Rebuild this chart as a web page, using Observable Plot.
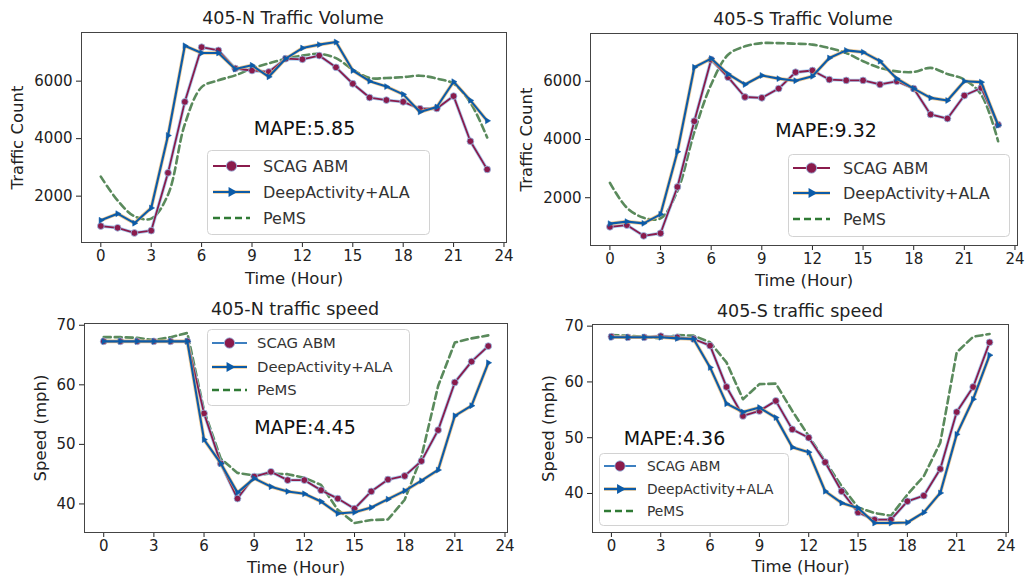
<!DOCTYPE html>
<html>
<head>
<meta charset="utf-8">
<script src="https://cdn.jsdelivr.net/npm/d3@7"></script>
<script src="https://cdn.jsdelivr.net/npm/@observablehq/plot@0.6"></script>
<style>
  body { margin: 0; background: #fff; font-family: "DejaVu Sans", sans-serif; }
  #fig { position: relative; width: 1025px; height: 577px; overflow: hidden; background: #fff; }
  .panel { position: absolute; overflow: visible; }
  .title { position: absolute; font-size: 17.5px; color: #222; transform: translate(-50%, -50%); white-space: nowrap; }
  .legend { position: absolute; }
  svg text { font-family: "DejaVu Sans", sans-serif; }
  g[aria-label="x-axis label"] text, g[aria-label="y-axis label"] text { font-size: 16.5px; }
</style>
</head>
<body>
<div id="fig"></div>
<script>
// Hour of day for every series
const hours = d3.range(24);
const xTicks = [0, 3, 6, 9, 12, 15, 18, 21, 24];

// 405-N traffic volume (vehicles per hour)
const nVolScag = [960, 900, 720, 800, 2810, 5280, 7180, 7070, 6440, 6370, 6320, 6780, 6760, 6890, 6480, 5910, 5430, 5340, 5280, 5040, 5050, 5480, 3910, 2930];
const nVolDeep = [1160, 1390, 1060, 1590, 4110, 7230, 6980, 6980, 6420, 6550, 6150, 6780, 7150, 7270, 7360, 6370, 6000, 5810, 5540, 4930, 5100, 5980, 5330, 4620];
const nVolPems = [2680, 1850, 1300, 1220, 2050, 4500, 5790, 6030, 6200, 6440, 6620, 6780, 6890, 6950, 6800, 6400, 6110, 6110, 6140, 6190, 6090, 5910, 5250, 4040];

// 405-S traffic volume
const sVolScag = [1000, 1060, 690, 780, 2370, 4630, 6740, 6140, 5460, 5430, 5750, 6310, 6370, 6060, 6030, 6030, 5890, 6000, 5750, 4860, 4720, 5510, 5770, 4510];
const sVolDeep = [1110, 1180, 1120, 1430, 3580, 6480, 6780, 6250, 5890, 6200, 6090, 6020, 6170, 6800, 7060, 7000, 6690, 6090, 5750, 5430, 5340, 6000, 5970, 4490];
const sVolPems = [2510, 1660, 1310, 1290, 2230, 4250, 5890, 6910, 7200, 7310, 7310, 7290, 7260, 7140, 6970, 6690, 6460, 6340, 6320, 6460, 6250, 6060, 5540, 3940];

// 405-N traffic speed (mph)
const nSpdScag = [67.3, 67.3, 67.3, 67.3, 67.3, 67.3, 55.2, 46.8, 40.9, 44.6, 45.4, 44.0, 44.0, 42.3, 40.9, 39.2, 42.1, 44.1, 44.7, 47.2, 52.4, 60.4, 63.9, 66.5];
const nSpdDeep = [67.3, 67.3, 67.3, 67.3, 67.3, 67.3, 50.8, 46.8, 41.9, 44.3, 42.9, 42.1, 41.7, 40.4, 38.4, 38.6, 39.4, 40.8, 42.2, 43.9, 45.7, 54.8, 56.5, 63.7];
const nSpdPems = [68.0, 68.0, 67.9, 67.5, 68.0, 68.7, 55.7, 47.6, 45.2, 44.8, 45.1, 45.0, 44.4, 43.2, 39.0, 36.8, 37.3, 37.4, 40.7, 47.9, 59.8, 67.1, 67.8, 68.3];

// 405-S traffic speed (mph)
const sSpdScag = [68.1, 68.0, 68.0, 68.2, 68.0, 67.7, 66.5, 59.1, 53.9, 54.8, 56.6, 51.5, 50.0, 45.6, 40.4, 36.6, 35.3, 35.3, 38.6, 39.6, 44.4, 54.6, 59.1, 67.1];
const sSpdDeep = [68.0, 68.0, 68.0, 68.0, 67.8, 67.7, 62.6, 56.1, 54.6, 55.4, 53.6, 48.3, 47.4, 40.4, 38.3, 37.4, 34.7, 34.7, 34.8, 36.6, 40.1, 50.6, 56.9, 64.8];
const sSpdPems = [68.4, 68.3, 68.1, 67.8, 68.4, 68.3, 67.1, 63.5, 56.9, 59.6, 59.7, 54.8, 50.3, 45.8, 41.3, 37.5, 36.5, 36.0, 39.8, 43.1, 49.1, 65.3, 68.1, 68.6];

// Series names and error scores
const seriesNames = ["SCAG ABM", "DeepActivity+ALA", "PeMS"];
const mapeLabels = ["MAPE:5.85", "MAPE:9.32", "MAPE:4.45", "MAPE:4.36"];
const panelTitles = ["405-N Traffic Volume", "405-S Traffic Volume", "405-N traffic speed", "405-S traffic speed"];

const MAROON = "#8a1b4c";
const BLUE = "#0c5ba8";
const GREEN = "#5a8a5c";

const fig = document.getElementById("fig");

// matplotlib-style autoscale: 5% padding on each side of the data range
function padded(values) {
  const [lo, hi] = d3.extent(values);
  const p = (hi - lo) * 0.05;
  return [lo - p, hi + p];
}

function rows(values) {
  return hours.map((h, i) => ({ h, v: values[i] }));
}

const panels = [
  {
    title: panelTitles[0], titlePos: [293, 18],
    left: 0, top: 0, width: 512, height: 290,
    margin: { left: 81, right: 6, top: 32, bottom: 48 },
    series: [nVolScag, nVolDeep, nVolPems], smooth: true,
    yTicks: [2000, 4000, 6000], yLabel: "Traffic Count", yLabelOffset: 70, xLabelOffset: 41,
    mape: mapeLabels[0], mapeAt: [9.1, 4340],
    legend: { x: 207, y: 150, w: 222, h: 84, rowY: [16, 42, 68], sw: [6, 43], tx: 56, fs: 16, scagLine: MAROON }
  },
  {
    title: panelTitles[1], titlePos: [803, 19],
    left: 512, top: 0, width: 513, height: 290,
    margin: { left: 78, right: 8, top: 33, bottom: 45 },
    series: [sVolScag, sVolDeep, sVolPems], smooth: true,
    yTicks: [2000, 4000, 6000], yLabel: "Traffic Count", yLabelOffset: 70, xLabelOffset: 40,
    mape: mapeLabels[1], mapeAt: [9.8, 4290],
    legend: { x: 788, y: 154, w: 221, h: 82, rowY: [14, 39, 65], sw: [5, 42], tx: 55, fs: 16, scagLine: MAROON }
  },
  {
    title: panelTitles[2], titlePos: [295, 309],
    left: 0, top: 290, width: 512, height: 287,
    margin: { left: 84, right: 5, top: 33, bottom: 45 },
    series: [nSpdScag, nSpdDeep, nSpdPems], smooth: false,
    yTicks: [40, 50, 60, 70], yLabel: "Speed (mph)", yLabelOffset: 50, xLabelOffset: 40,
    mape: mapeLabels[2], mapeAt: [9.0, 52.7],
    legend: { x: 207, y: 329, w: 202, h: 76, rowY: [14, 38, 61], sw: [5, 40], tx: 50, fs: 14.8, scagLine: "#3d7fc0" }
  },
  {
    title: panelTitles[3], titlePos: [800, 311],
    left: 512, top: 290, width: 513, height: 287,
    margin: { left: 80, right: 17, top: 34, bottom: 45 },
    series: [sSpdScag, sSpdDeep, sSpdPems], smooth: false,
    yTicks: [40, 50, 60, 70], yLabel: "Speed (mph)", yLabelOffset: 50, xLabelOffset: 39,
    mape: mapeLabels[3], mapeAt: [0.75, 49.8],
    legend: { x: 599, y: 453, w: 189, h: 72, rowY: [13, 36, 58], sw: [5, 37], tx: 48, fs: 13.8, scagLine: "#3d7fc0" }
  }
];

for (const p of panels) {
  const [scag, deep, pems] = p.series.map(rows);
  const yDomain = padded([...p.series[0], ...p.series[1], ...p.series[2]]);
  const chart = Plot.plot({
    width: p.width,
    height: p.height,
    marginLeft: p.margin.left,
    marginRight: p.margin.right,
    marginTop: p.margin.top,
    marginBottom: p.margin.bottom,
    style: { fontSize: "15px", color: "#222", background: "transparent", overflow: "visible" },
    x: { domain: [-1.15, 24.15] },
    y: { domain: yDomain },
    marks: [
      Plot.axisX({ ticks: xTicks, tickSize: 5, tickPadding: 3, tickFormat: d3.format("d"),
        label: "Time (Hour)", labelAnchor: "center", labelOffset: p.xLabelOffset, labelArrow: "none" }),
      Plot.axisY({ ticks: p.yTicks, tickSize: 5, tickPadding: 4, tickFormat: d3.format("d"),
        label: p.yLabel, labelAnchor: "center", labelOffset: p.yLabelOffset, labelArrow: "none" }),
      // PeMS observations
      Plot.line(pems, { x: "h", y: "v", stroke: GREEN, strokeWidth: 2.6, strokeDasharray: "7,4",
        curve: p.smooth ? "catmull-rom" : "linear" }),
      // SCAG ABM with a light edge
      Plot.line(scag, { x: "h", y: "v", stroke: "#9ac2ea", strokeWidth: 3.4, strokeOpacity: 0.8 }),
      Plot.line(scag, { x: "h", y: "v", stroke: MAROON, strokeWidth: 1.8 }),
      Plot.dot(scag, { x: "h", y: "v", r: 3.4, fill: MAROON, stroke: "#9ac2ea", strokeWidth: 0.8 }),
      // DeepActivity+ALA with a warm edge
      Plot.line(deep, { x: "h", y: "v", stroke: "#e8b466", strokeWidth: 3.6, strokeOpacity: 0.7 }),
      Plot.line(deep, { x: "h", y: "v", stroke: BLUE, strokeWidth: 2.1 }),
      Plot.dot(deep, { x: "h", y: "v", symbol: "triangle", rotate: 90, r: 2.2, fill: BLUE, stroke: BLUE, strokeWidth: 0.5 }),
      Plot.text([p.mape], { x: p.mapeAt[0], y: p.mapeAt[1], text: d => d, textAnchor: "start",
        fontSize: 19, fill: "#111" }),
      Plot.frame({ stroke: "#444", strokeWidth: 1 })
    ]
  });
  chart.classList.add("panel");
  chart.style.left = p.left + "px";
  chart.style.top = p.top + "px";
  fig.appendChild(chart);

  const t = document.createElement("div");
  t.className = "title";
  t.textContent = p.title;
  t.style.left = p.titlePos[0] + "px";
  t.style.top = p.titlePos[1] + "px";
  fig.appendChild(t);

  // Legend box
  const L = p.legend;
  const svg = d3.select(fig).append("svg")
    .attr("class", "legend")
    .attr("width", L.w + 2).attr("height", L.h + 2)
    .style("left", L.x + "px").style("top", L.y + "px");
  svg.append("rect").attr("x", 0.5).attr("y", 0.5).attr("width", L.w).attr("height", L.h)
    .attr("rx", 4).attr("fill", "rgba(255,255,255,0.85)").attr("stroke", "#d2d2d2");
  const mid = (L.sw[0] + L.sw[1]) / 2;
  // SCAG ABM
  svg.append("line").attr("x1", L.sw[0]).attr("x2", L.sw[1]).attr("y1", L.rowY[0]).attr("y2", L.rowY[0])
    .attr("stroke", L.scagLine).attr("stroke-width", 2);
  svg.append("circle").attr("cx", mid).attr("cy", L.rowY[0]).attr("r", 5.2).attr("fill", MAROON)
    .attr("stroke", "#9ac2ea").attr("stroke-width", 0.8);
  // DeepActivity+ALA
  svg.append("line").attr("x1", L.sw[0]).attr("x2", L.sw[1]).attr("y1", L.rowY[1]).attr("y2", L.rowY[1])
    .attr("stroke", "#e8b466").attr("stroke-width", 3.6).attr("stroke-opacity", 0.7);
  svg.append("line").attr("x1", L.sw[0]).attr("x2", L.sw[1]).attr("y1", L.rowY[1]).attr("y2", L.rowY[1])
    .attr("stroke", BLUE).attr("stroke-width", 2.2);
  svg.append("path").attr("d", d3.symbol(d3.symbolTriangle, 45)())
    .attr("transform", `translate(${mid},${L.rowY[1]}) rotate(90)`).attr("fill", BLUE);
  // PeMS
  svg.append("line").attr("x1", L.sw[0]).attr("x2", L.sw[1]).attr("y1", L.rowY[2]).attr("y2", L.rowY[2])
    .attr("stroke", "#2f7a34").attr("stroke-width", 2.6).attr("stroke-dasharray", "7,4");
  seriesNames.forEach((name, i) => {
    svg.append("text").attr("x", L.tx).attr("y", L.rowY[i]).attr("dy", "0.36em")
      .attr("font-size", L.fs).attr("fill", "#333").text(name);
  });
}
</script>
</body>
</html>
